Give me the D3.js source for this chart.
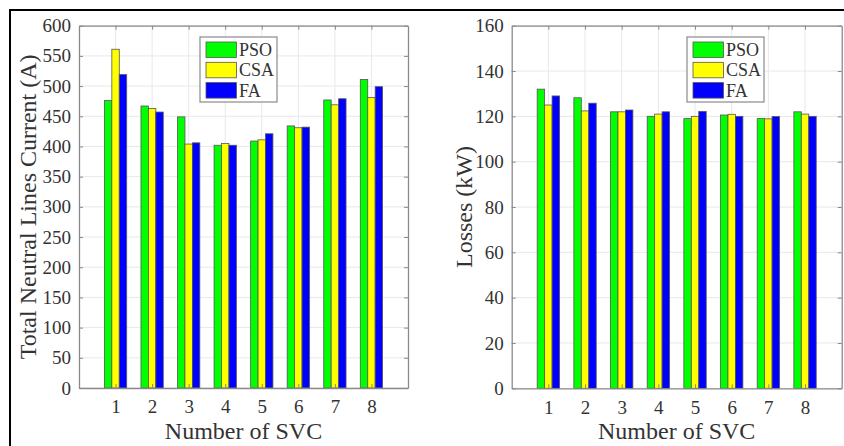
<!DOCTYPE html>
<html>
<head>
<meta charset="utf-8">
<script src="https://cdn.jsdelivr.net/npm/d3@7"></script>
<style>
  html, body { margin: 0; padding: 0; background: #fff; }
  svg { display: block; }
  text { font-family: "Liberation Serif", "Times New Roman", serif; fill: #333; }
</style>
</head>
<body>
<svg id="chart" width="844" height="446"></svg>
<script>
// ---- data ----
const categories = [1, 2, 3, 4, 5, 6, 7, 8];
const seriesNames = ["PSO", "CSA", "FA"];
const seriesColors = ["#00ff00", "#ffff00", "#0000ff"];

// Left panel: Total Neutral Lines Current (A)
const currentPSO = [476, 467, 449, 402, 409, 434, 477, 511];
const currentCSA = [561, 463, 404, 405, 411, 431, 469, 481];
const currentFA  = [519, 457, 406, 402, 421, 432, 479, 499];
const currentTicks = [0, 50, 100, 150, 200, 250, 300, 350, 400, 450, 500, 550, 600];

// Right panel: Losses (kW)
const lossPSO = [132, 128.2, 122, 120, 119, 120.6, 119, 122];
const lossCSA = [125, 122.4, 122, 121, 120, 120.9, 118.9, 121];
const lossFA  = [129, 125.8, 122.8, 122, 122.2, 120, 119.9, 120];
const lossTicks = [0, 20, 40, 60, 80, 100, 120, 140, 160];

const xLabel = "Number of SVC";

const svg = d3.select("#chart");

// outer frame (top and left edges visible)
svg.append("rect")
  .attr("x", 10).attr("y", 10)
  .attr("width", 900).attr("height", 500)
  .attr("fill", "none").attr("stroke", "#000").attr("stroke-width", 2);

function panel(opts) {
  const { left, right, top, bottom, series, yMax, yTicks, yLabel, yLabelX, legendX } = opts;
  const g = svg.append("g");
  const x = d3.scaleLinear().domain([0, 9]).range([left, right]);
  const y = d3.scaleLinear().domain([0, yMax]).range([bottom, top]);
  const unit = x(1) - x(0);
  const sub = d3.scaleBand().domain(seriesNames)
    .range([-0.305 * unit, 0.305 * unit]).paddingInner(0);

  // background
  g.append("rect").attr("x", left).attr("y", top)
    .attr("width", right - left).attr("height", bottom - top).attr("fill", "#fff");

  // grid
  g.append("g").selectAll("line").data(yTicks).join("line")
    .attr("x1", left).attr("x2", right)
    .attr("y1", d => y(d)).attr("y2", d => y(d))
    .attr("stroke", "#e8e8e8").attr("stroke-width", 1);
  g.append("g").selectAll("line").data(categories).join("line")
    .attr("x1", d => x(d)).attr("x2", d => x(d))
    .attr("y1", top).attr("y2", bottom)
    .attr("stroke", "#e8e8e8").attr("stroke-width", 1);

  // bars
  series.forEach((vals, si) => {
    g.append("g").selectAll("rect").data(vals).join("rect")
      .attr("x", (d, i) => x(categories[i]) + sub(seriesNames[si]))
      .attr("width", sub.bandwidth())
      .attr("y", d => y(d))
      .attr("height", d => y(0) - y(d))
      .attr("fill", seriesColors[si])
      .attr("stroke", "#555").attr("stroke-width", 0.8);
  });

  // axes
  const tickLen = 4;
  const axL = g.append("g").attr("transform", `translate(${left},0)`)
    .call(d3.axisLeft(y).tickValues(yTicks).tickSizeInner(-tickLen).tickSizeOuter(0).tickPadding(8));
  const axR = g.append("g").attr("transform", `translate(${right},0)`)
    .call(d3.axisRight(y).tickValues(yTicks).tickSizeInner(-tickLen).tickSizeOuter(0).tickFormat(""));
  const axB = g.append("g").attr("transform", `translate(0,${bottom})`)
    .call(d3.axisBottom(x).tickValues(categories).tickSizeInner(-tickLen).tickSizeOuter(0).tickPadding(12));
  const axT = g.append("g").attr("transform", `translate(0,${top})`)
    .call(d3.axisTop(x).tickValues(categories).tickSizeInner(-tickLen).tickSizeOuter(0).tickFormat(""));
  [axL, axR, axB, axT].forEach(a => {
    a.select(".domain").attr("stroke", "#8a8a8a").attr("stroke-width", 1.3);
    a.selectAll(".tick line").attr("stroke", "#8a8a8a");
    a.selectAll("text").attr("font-family", "Liberation Serif, serif")
      .attr("font-size", 19).attr("fill", "#333");
  });

  // axis labels
  g.append("text")
    .attr("x", (left + right) / 2).attr("y", 439)
    .attr("text-anchor", "middle").attr("font-size", 24)
    .text(xLabel);
  g.append("text")
    .attr("transform", `translate(${yLabelX},${(top + bottom) / 2}) rotate(-90)`)
    .attr("text-anchor", "middle").attr("font-size", 24)
    .text(yLabel);

  // legend
  const lg = g.append("g").attr("transform", `translate(${legendX},37)`);
  lg.append("rect").attr("x", 0).attr("y", 0).attr("width", 77).attr("height", 65)
    .attr("fill", "#fff").attr("stroke", "#8a8a8a").attr("stroke-width", 1.2);
  seriesNames.forEach((name, i) => {
    lg.append("rect").attr("x", 6).attr("y", 5 + i * 20.3)
      .attr("width", 30.5).attr("height", 15.5)
      .attr("fill", seriesColors[i]).attr("stroke", "#555").attr("stroke-width", 0.8);
    lg.append("text").attr("x", 39).attr("y", 19 + i * 20.3)
      .attr("font-size", 18).text(name);
  });
}

panel({
  left: 79, right: 408, top: 25.7, bottom: 388,
  series: [currentPSO, currentCSA, currentFA],
  yMax: 600, yTicks: currentTicks,
  yLabel: "Total Neutral Lines Current (A)", yLabelX: 36, legendX: 200
});
panel({
  left: 511.7, right: 841.7, top: 25.7, bottom: 388.3,
  series: [lossPSO, lossCSA, lossFA],
  yMax: 160, yTicks: lossTicks,
  yLabel: "Losses (kW)", yLabelX: 472, legendX: 687
});
</script>
</body>
</html>
